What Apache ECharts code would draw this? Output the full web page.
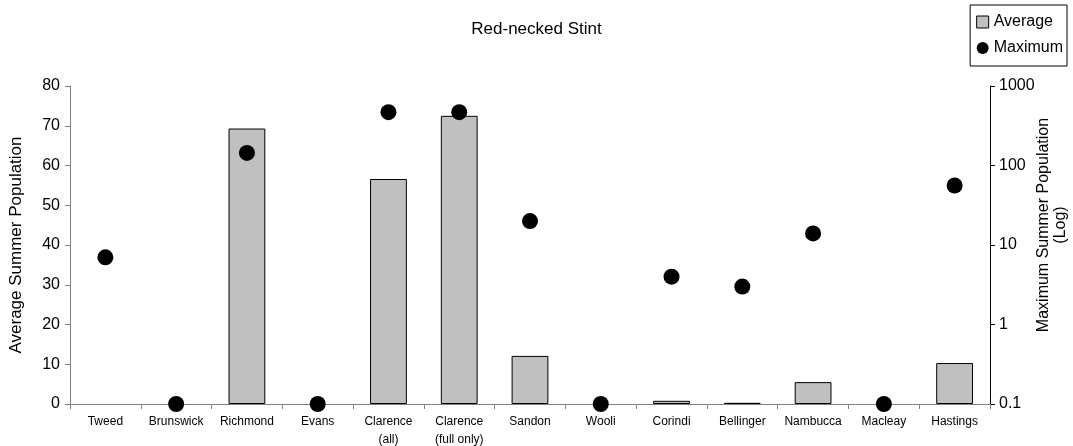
<!DOCTYPE html>
<html><head><meta charset="utf-8">
<script src="https://cdn.jsdelivr.net/npm/echarts@6/dist/echarts.min.js"></script>
<style>html,body{margin:0;padding:0;background:#fff}#c{width:1073px;height:446px}</style>
</head><body><div id="c"></div>
<script>
var categories = ['Tweed','Brunswick','Richmond','Evans','Clarence\n(all)','Clarence\n(full only)','Sandon','Wooli','Corindi','Bellinger','Nambucca','Macleay','Hastings'];
var averageValues = [0, 0, 69.3, 0, 56.6, 72.5, 12.1, 0, 0.8, 0.3, 5.5, 0, 10.3];
var maximumValues = [7, 0.1, 144, 0.1, 468, 468, 20, 0.1, 4, 3, 14, 0.1, 56];
var leftTicks = [0, 10, 20, 30, 40, 50, 60, 70, 80];
var rightTicks = [0.1, 1, 10, 100, 1000];

var font = 'Liberation Sans, Arial, sans-serif';
var chart = echarts.init(document.getElementById('c'), null, {renderer: 'canvas'});
chart.setOption({
  animation: false,
  backgroundColor: '#fff',
  textStyle: {fontFamily: font},
  title: {text: 'Red-necked Stint', left: 'center', top: 16,
    textStyle: {fontSize: 17, fontWeight: 'normal', color: '#000', fontFamily: font}},
  legend: {
    right: 6, top: 5, orient: 'vertical', itemGap: 10,
    padding: [9, 4, 10, 6],
    borderColor: '#000', borderWidth: 1,
    itemWidth: 12, itemHeight: 12,
    textStyle: {fontSize: 16, color: '#000', fontFamily: font},
    data: [
      {name: 'Average', icon: 'rect', itemStyle: {color: '#c0c0c0', borderColor: '#000', borderWidth: 1}},
      {name: 'Maximum', icon: 'circle', itemStyle: {color: '#000'}}
    ]
  },
  grid: {left: 70, right: 83, top: 86, bottom: 42, containLabel: false, outerBoundsMode: 'none'},
  xAxis: {
    type: 'category', data: categories, boundaryGap: true,
    axisLine: {lineStyle: {color: '#808080', width: 1}},
    axisTick: {show: true, alignWithLabel: false, length: 5, lineStyle: {color: '#808080'}},
    axisLabel: {fontSize: 12, color: '#000', margin: 9, interval: 0, lineHeight: 18, fontFamily: font}
  },
  yAxis: [
    {
      type: 'value', min: 0, max: 80, interval: 10, position: 'left',
      name: 'Average Summer Population', nameLocation: 'middle', nameGap: 45,
      nameMoveOverlap: false,
      nameTextStyle: {fontSize: 17, color: '#000', fontFamily: font},
      axisLine: {show: true, lineStyle: {color: '#808080'}},
      axisTick: {show: true, length: 5, lineStyle: {color: '#808080'}},
      axisLabel: {fontSize: 16, color: '#000', margin: 10, fontFamily: font,
        formatter: function (v) { return leftTicks.indexOf(v) >= 0 ? String(v) : ''; }},
      splitLine: {show: false}
    },
    {
      type: 'log', logBase: 10, min: 0.1, max: 1000, position: 'right',
      name: 'Maximum Summer Population\n(Log)', nameLocation: 'middle', nameGap: 45,
      nameMoveOverlap: false,
      nameTextStyle: {fontSize: 16, color: '#000', lineHeight: 17, fontFamily: font, padding: [0, 0, 0, 40]},
      axisLine: {show: true, lineStyle: {color: '#000'}},
      axisTick: {show: true, length: 5, lineStyle: {color: '#000'}},
      axisLabel: {fontSize: 16, color: '#000', margin: 9, fontFamily: font,
        formatter: function (v) {
          for (var i = 0; i < rightTicks.length; i++) {
            if (Math.abs(Math.log10(v) - Math.log10(rightTicks[i])) < 1e-6) return String(rightTicks[i]);
          }
          return '';
        }},
      splitLine: {show: false}
    }
  ],
  series: [
    {
      name: 'Average', type: 'bar', yAxisIndex: 0,
      data: averageValues.map(function (v) { return v === 0 ? '-' : v; }),
      barWidth: '52%',
      itemStyle: {color: '#c0c0c0', borderColor: '#000', borderWidth: 1}
    },
    {
      name: 'Maximum', type: 'scatter', yAxisIndex: 1, data: maximumValues,
      symbol: 'circle', symbolSize: 16,
      itemStyle: {color: '#000', opacity: 1}
    }
  ]
});
</script>
</body></html>
